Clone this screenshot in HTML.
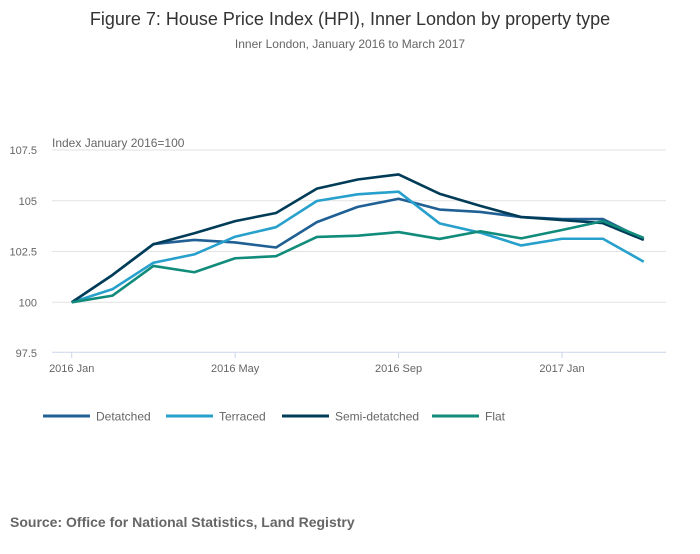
<!DOCTYPE html>
<html><head><meta charset="utf-8">
<style>
body{margin:0;background:#fff;width:700px;height:549px;overflow:hidden;font-family:"Liberation Sans",sans-serif;}
</style></head>
<body>
<svg width="700" height="549" xmlns="http://www.w3.org/2000/svg">
<text x="350" y="25" text-anchor="middle" font-size="18" fill="#333">Figure 7: House Price Index (HPI), Inner London by property type</text>
<text x="350" y="48" text-anchor="middle" font-size="12" fill="#666">Inner London, January 2016 to March 2017</text>
<text x="52" y="147" font-size="12" fill="#666">Index January 2016=100</text>
<g id="grid"></g>
<g id="xaxis"></g>
<g id="series"></g>
<g id="legend"></g>
<text x="10" y="527" font-size="14" font-weight="bold" fill="#666">Source: Office for National Statistics, Land Registry</text>
</svg>
<script>
const months = ["2016 Jan","Feb","Mar","Apr","2016 May","Jun","Jul","Aug","2016 Sep","Oct","Nov","Dec","2017 Jan","Feb","Mar"];
const xTickLabels = ["2016 Jan","2016 May","2016 Sep","2017 Jan"];
const yTicks = [97.5,100,102.5,105,107.5];
const yTickLabels = ["97.5","100","102.5","105","107.5"];
const seriesNames = ["Detatched","Terraced","Semi-detatched","Flat"];
const detached = [100,101.35,102.87,103.07,102.95,102.7,103.95,104.7,105.1,104.57,104.45,104.2,104.1,104.1,103.1];
const terraced = [100,100.65,101.95,102.36,103.23,103.7,104.99,105.32,105.45,103.89,103.43,102.8,103.13,103.13,102.0];
const semi = [100,101.35,102.86,103.4,104.0,104.4,105.6,106.05,106.3,105.35,104.75,104.2,104.05,103.9,103.07];
const flat = [100,100.33,101.79,101.48,102.17,102.27,103.22,103.28,103.46,103.12,103.5,103.15,103.56,104.0,103.17];
const colors = ["#206095","#27a0cc","#003c57","#118c7b"];

const NS="http://www.w3.org/2000/svg";
const x = i => 71.7 + i*40.86;
const y = v => 302.3 - (v-100)*20.3;
function mk(tag, attrs, parent){const e=document.createElementNS(NS,tag);for(const k in attrs)e.setAttribute(k,attrs[k]);parent.appendChild(e);return e;}
const grid=document.getElementById('grid');
yTicks.forEach((t,i)=>{
  if(i>0){const l=mk('line',{x1:52,x2:666,y1:y(t),y2:y(t),stroke:'#e2e2e2','stroke-width':1},grid);
  
  }
  const tx=mk('text',{x:37,y:y(t)+4,'text-anchor':'end','font-size':11,fill:'#666'},grid);
  tx.textContent=yTickLabels[i];
  
  
});
const xa=document.getElementById('xaxis');
const ax=mk('line',{x1:52,x2:666,y1:352.3,y2:352.3,stroke:'#ccd6eb','stroke-width':1},xa);


xTickLabels.forEach(lbl=>{
  const i=months.indexOf(lbl);
  const tk=mk('line',{x1:x(i),x2:x(i),y1:352,y2:358,stroke:'#ccd6eb'},xa);
  
  
  const t=mk('text',{x:x(i),y:372,'text-anchor':'middle','font-size':11,fill:'#666'},xa);
  t.textContent=lbl;
  
  
});
const sg=document.getElementById('series');
[detached,terraced,semi,flat].forEach((d,si)=>{
  const p=mk('polyline',{points:d.map((v,i)=>x(i)+','+y(v)).join(' '),fill:'none',stroke:colors[si],'stroke-width':2.6,'stroke-linejoin':'round'},sg);
  
  
});
const lg=document.getElementById('legend');
const lx=[43,166,282,432];
seriesNames.forEach((n,i)=>{
  const g=mk('g',{},lg);
  
  
  mk('line',{x1:lx[i],x2:lx[i]+47,y1:416,y2:416,stroke:colors[i],'stroke-width':3},g);
  const t=mk('text',{x:lx[i]+53,y:420.5,'font-size':12,fill:'#666'},g);
  t.textContent=n;
});
</script>
</body></html>
